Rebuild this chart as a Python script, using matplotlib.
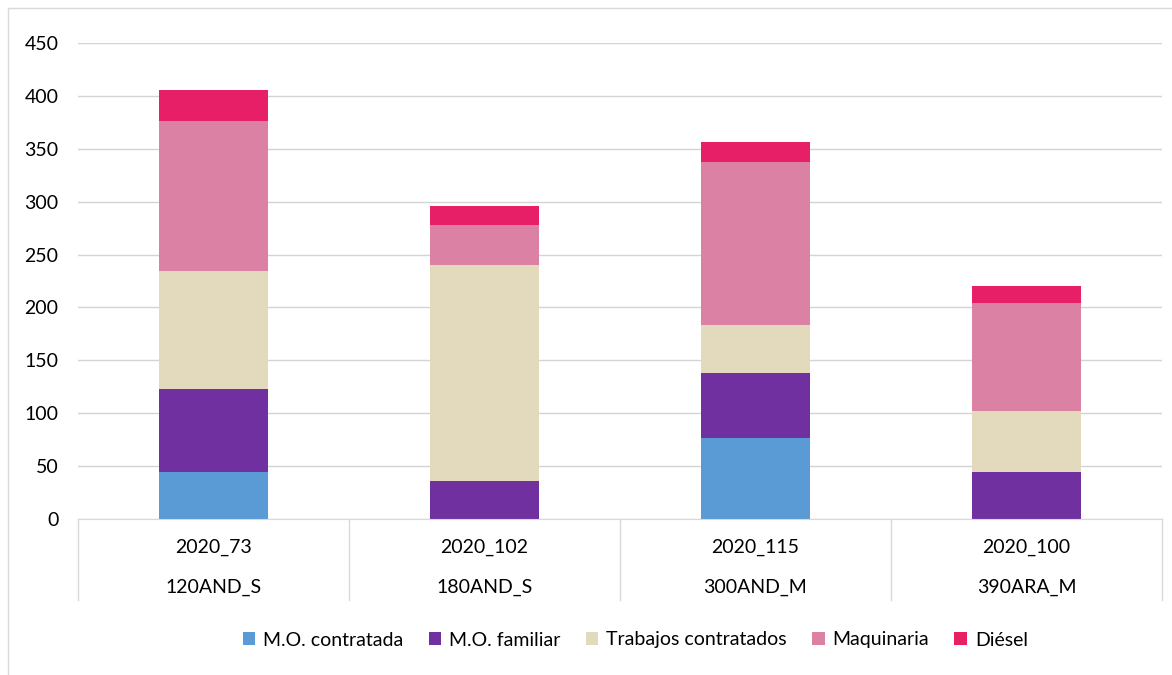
import numpy as np
import matplotlib.pyplot as plt
from matplotlib.patches import Rectangle

plt.rcParams['font.family'] = ['Lato', 'DejaVu Sans']

codes = ["2020_73", "2020_102", "2020_115", "2020_100"]
groups = ["120AND_S", "180AND_S", "300AND_M", "390ARA_M"]

mo_contratada = [44, 0, 76, 0]
mo_familiar = [79, 36, 62, 44]
trabajos = [111, 204, 45, 58]
maquinaria = [142, 38, 155, 102]
diesel = [30, 18, 19, 16]

series = [
    ("M.O. contratada", mo_contratada, "#5B9BD5"),
    ("M.O. familiar", mo_familiar, "#7030A0"),
    ("Trabajos contratados", trabajos, "#E3D9BD"),
    ("Maquinaria", maquinaria, "#DB82A4"),
    ("Diésel", diesel, "#E61F66"),
]

fig = plt.figure(figsize=(11.72, 6.75), dpi=100)
ax = fig.add_axes([78 / 1172, 1 - 518.7 / 675, (1162 - 78) / 1172, (518.7 - 43.3) / 675])

x = np.arange(len(codes))
bottom = np.zeros(len(codes))
for name, vals, color in series:
    vals = np.array(vals, dtype=float)
    ax.bar(x, vals, width=0.4, bottom=bottom, color=color, label=name, zorder=3)
    bottom += vals

ax.set_xlim(-0.5, len(codes) - 0.5)
ax.set_ylim(0, 450)
ax.set_yticks(range(0, 451, 50))
ax.tick_params(axis='y', length=0, pad=14, labelsize=14)
ax.set_xticks([])
ax.grid(axis='y', color='#d4d4d4', linewidth=1, zorder=0)
for s in ['left', 'right', 'top']:
    ax.spines[s].set_visible(False)
ax.spines['bottom'].set_color('#d9d9d9')
ax.spines['bottom'].set_zorder(4)

# two-level category axis
trans = ax.get_xaxis_transform()
for i in range(len(codes)):
    ax.text(x[i], -0.06, codes[i], transform=trans, ha='center', va='center', fontsize=14)
    ax.text(x[i], -0.145, groups[i], transform=trans, ha='center', va='center', fontsize=14)
for b in np.arange(-0.5, len(codes), 1.0):
    ax.plot([b, b], [0, -0.172], transform=trans, color='#d9d9d9', linewidth=1, clip_on=False)

fig.legend(loc='center', bbox_to_anchor=(0.542, 1 - 640 / 675), ncol=5, frameon=False,
           fontsize=14, handlelength=0.65, handleheight=0.65, handletextpad=0.4, columnspacing=1.3)

# outer chart border (left and top visible)
fig.add_artist(Rectangle((8 / 1172, -0.1), 1.2, 1 - 8 / 675 + 0.1, transform=fig.transFigure,
                         fill=False, edgecolor='#d9d9d9', linewidth=1))

fig.savefig("out.png", dpi=100)
